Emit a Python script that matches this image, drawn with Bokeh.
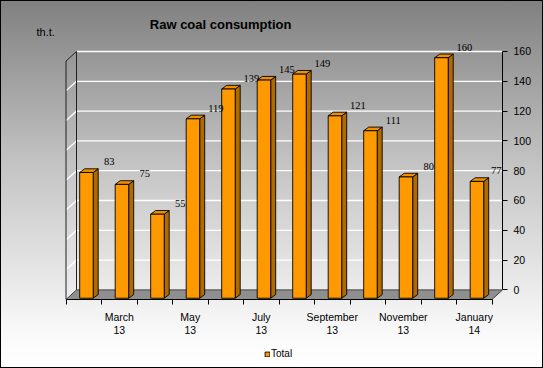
from bokeh.plotting import figure
from bokeh.layouts import column
from bokeh.models import (Range1d, FixedTicker, Legend, LegendItem, LabelSet,
                          Label, ColumnDataSource)
from bokeh.embed import file_html
from bokeh.resources import INLINE

# ---------------- data ----------------
months = ["February 13", "March 13", "April 13", "May 13", "June 13", "July 13",
          "August 13", "September 13", "October 13", "November 13", "December 13",
          "January 14"]
values = [83, 75, 55, 119, 139, 145, 149, 121, 111, 80, 160, 77]
tick_labels = {"March 13": "March\n13", "May 13": "May\n13", "July 13": "July\n13",
               "September 13": "September\n13", "November 13": "November\n13",
               "January 14": "January\n14"}
y_ticks = [0, 20, 40, 60, 80, 100, 120, 140, 160]
title_text = "Raw coal consumption"
unit_text = "th.t."
series_name = "Total"

# ---------------- geometry (pixels -> data) ----------------
W, H = 543, 368
MAIN_H = 338
LEG_H = H - MAIN_H
FRAME_W, FRAME_H = 502, 302
CAT_PX = 35.5            # px per category
UNIT_PX = 1.505          # px per value unit
X0_PX = 65.5             # px position of category 0 (front)
Y0_PX = 292.3            # px position of value 0 on the back wall

x_start = -X0_PX / CAT_PX
x_end = (FRAME_W - X0_PX) / CAT_PX
y_end = Y0_PX / UNIT_PX
y_start = -(FRAME_H - Y0_PX) / UNIT_PX

DX = x_end - 12          # depth of the chart box (back wall ends at the axis)
DY = -y_start
BAR_OFF = 2.7 / CAT_PX
BAR_W = 13.5 / CAT_PX
BDX = 5.0 / CAT_PX
BDY = 3.7 / UNIT_PX
BAR_BOTTOM = -5.58
BAR_TOP_SHIFT = -4.2
LABEL_DX = 0.72
LABEL_HALF_W = 6.2 / CAT_PX

FONT = "Liberation Sans"

def px_x(px):
    return (px - X0_PX) / CAT_PX

def px_y(py):
    return (Y0_PX - py) / UNIT_PX

n = len(months)
ncat = float(n)

p = figure(width=W, height=MAIN_H, title=None,
           x_range=Range1d(x_start, x_end), y_range=Range1d(y_start, y_end),
           y_axis_location="right", output_backend="svg", toolbar_location=None,
           min_border_left=0, min_border_top=0, min_border_right=W - FRAME_W,
           min_border_bottom=MAIN_H - FRAME_H,
           background_fill_color=None, border_fill_color=None,
           outline_line_color=None)
p.xgrid.visible = False
p.ygrid.visible = False

# floor
p.patch([0, ncat, ncat + DX, DX], [-DY, -DY, 0, 0],
        fill_color="#8f8f8f", line_color="#404040", line_width=1)

# back wall grid lines
grid_vals = [v for v in y_ticks if v > 0]
p.segment(x0=[DX] * len(grid_vals), y0=grid_vals, x1=[ncat + DX] * len(grid_vals),
          y1=grid_vals, line_color="#ffffff", line_width=1.3)
# side wall grid lines
p.segment(x0=[0] * len(grid_vals[:-1]), y0=[v - DY for v in grid_vals[:-1]],
          x1=[DX] * len(grid_vals[:-1]), y1=grid_vals[:-1],
          line_color="#ffffff", line_width=1.3)
top = y_ticks[-1]
p.segment(x0=[0, DX, 0], y0=[-DY, 0, top - DY], x1=[0, DX, DX], y1=[top - DY, top, top],
          line_color="#202020", line_width=1)

# bars
centers = [i + 0.5 + BAR_OFF for i in range(n)]
lefts = [c - BAR_W / 2 for c in centers]
rights = [c + BAR_W / 2 for c in centers]
tops = [v + BAR_TOP_SHIFT for v in values]
bottoms = [BAR_BOTTOM] * n

side_xs = [[r, r + BDX, r + BDX, r] for r in rights]
side_ys = [[BAR_BOTTOM, BAR_BOTTOM + BDY, t + BDY, t] for t in tops]
top_xs = [[l, r, r + BDX, l + BDX] for l, r in zip(lefts, rights)]
top_ys = [[t, t, t + BDY, t + BDY] for t in tops]

BAR_STYLE = dict(fill_color="#ff9900", line_color="#000000", line_width=0.9)
p.patches(side_xs, side_ys, fill_color="#b06a00", line_color="#000000", line_width=0.9)
p.patches(top_xs, top_ys, fill_color="#f09000", line_color="#000000", line_width=0.9)
p.quad(left=lefts, right=rights, bottom=bottoms, top=tops, **BAR_STYLE)

# value labels (kept inside the plot box)
lab_x = [min(i + 0.5 + LABEL_DX, x_end - LABEL_HALF_W) for i in range(n)]
lab_src = ColumnDataSource(dict(x=lab_x, y=[v + 0.5 for v in values],
                                t=[str(v) for v in values]))
p.add_layout(LabelSet(x="x", y="y", text="t", source=lab_src, text_align="center",
                      text_baseline="alphabetic", text_font=FONT,
                      text_font_size="10.5px", text_color="#000000"))

# title and unit
p.add_layout(Label(x=px_x(149.3), y=px_y(24), text=title_text, text_font=FONT,
                   text_font_style="bold", text_font_size="13px", text_color="#000000",
                   text_baseline="alphabetic"))
p.add_layout(Label(x=px_x(36), y=px_y(31.7), text=unit_text, text_font=FONT,
                   text_font_size="11px", text_color="#000000", text_baseline="alphabetic"))

# x axis
xa = p.xaxis[0]
major = [i + 0.5 for i, m in enumerate(months) if m in tick_labels]
xa.ticker = FixedTicker(ticks=major, minor_ticks=list(range(n + 1)))
xa.major_label_overrides = {i + 0.5: tick_labels[m] for i, m in enumerate(months) if m in tick_labels}
xa.bounds = (0, n)
xa.axis_line_color = "#000000"
xa.major_tick_out = 0
xa.major_tick_in = 0
xa.minor_tick_out = 5
xa.minor_tick_in = 0
xa.minor_tick_line_color = "#000000"
xa.major_label_standoff = 6
xa.major_label_text_font = FONT
xa.major_label_text_font_size = "10.5px"
xa.major_label_text_color = "#000000"
xa.major_label_text_line_height = 1.1

# y axis (right side, at the back wall's right edge)
ya = p.yaxis[0]
ya.ticker = FixedTicker(ticks=y_ticks)
ya.bounds = (y_ticks[0], y_ticks[-1])
ya.axis_line_color = "#000000"
ya.major_tick_out = 5
ya.major_tick_in = 0
ya.minor_tick_line_color = None
ya.major_label_standoff = 6
ya.major_label_text_font = FONT
ya.major_label_text_font_size = "10.5px"
ya.major_label_text_color = "#000000"

# ---------------- legend strip ----------------
lf = figure(width=W, height=LEG_H, title=None,
            x_range=Range1d(0, W), y_range=Range1d(0, LEG_H),
            x_axis_location=None, y_axis_location=None,
            output_backend="svg", toolbar_location=None,
            min_border=0, background_fill_color=None, border_fill_color=None,
            outline_line_color=None)
lf.xgrid.visible = False
lf.ygrid.visible = False
# legend key proxy, kept outside the visible range of the strip
key = lf.quad(left=[-20], right=[-10], bottom=[-20], top=[-10], **BAR_STYLE)
legend = Legend(items=[LegendItem(label=series_name, renderers=[key])],
                location=(264, 9), orientation="horizontal",
                glyph_width=6, glyph_height=6, label_standoff=1, padding=0, margin=0,
                spacing=0, border_line_color=None, background_fill_alpha=0,
                label_text_font=FONT, label_text_font_size="10px",
                label_height=10, label_text_color="#000000")
lf.add_layout(legend)

page = column(p, lf, spacing=0)
page.styles = {"background": "linear-gradient(to bottom, #808080 0%, #c4c4c4 45%, #fbfbfb 92%, #ffffff 100%)",
               "outline": "1px solid #000000", "outline-offset": "-1px"}

open("out.html", "w").write(file_html(page, INLINE))
